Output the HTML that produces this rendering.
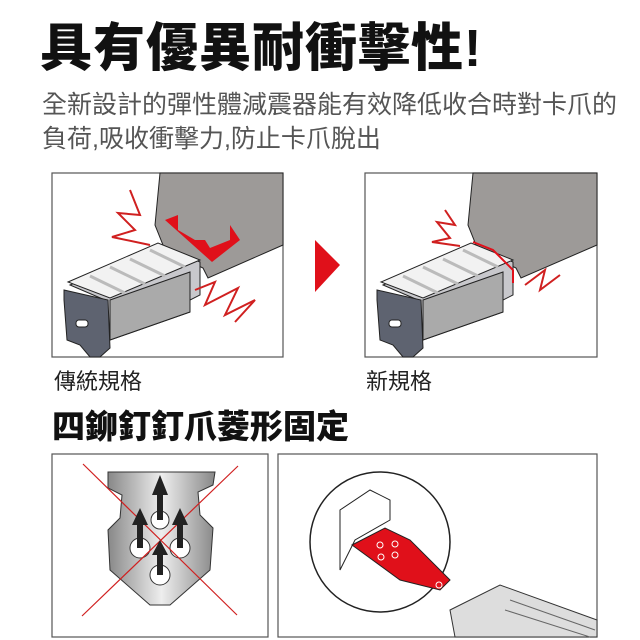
<!DOCTYPE html>
<html><head><meta charset="utf-8"><style>
body{margin:0;width:640px;height:640px;background:#fff;overflow:hidden;position:relative;font-family:"Liberation Sans","Noto Sans CJK TC",sans-serif}
.t{position:absolute;white-space:nowrap}
</style></head><body>
<div class="t" style="left:40px;top:6px;font-size:52px;font-weight:900;color:#111;letter-spacing:1px">具有優異耐衝擊性!</div>
<div class="t" style="left:42px;top:88px;font-size:25px;color:#555;line-height:34px;letter-spacing:0">全新設計的彈性體減震器能有效降低收合時對卡爪的<br>負荷,吸收衝擊力,防止卡爪脫出</div>
<div class="t" style="left:54px;top:364px;font-size:22px;color:#222">傳統規格</div>
<div class="t" style="left:366px;top:364px;font-size:22px;color:#222">新規格</div>
<div class="t" style="left:52px;top:400px;font-size:33px;font-weight:900;color:#111">四鉚釘釘爪菱形固定</div>
<svg width="640" height="640" style="position:absolute;left:0;top:0">
<g fill="none" stroke="#555" stroke-width="1.2">
<rect x="52" y="173" width="231" height="184"/>
<rect x="365" y="173" width="232" height="184"/>
<rect x="52" y="454" width="216" height="183"/>
<rect x="278" y="454" width="319" height="183"/>
</g>
<polygon points="315,240 340,265 315,292" fill="#e0101a"/>
<g>
<path d="M160,173 L283,173 L283,245 L208,278 L203,268 L165,250 L155,225 Z" fill="#9d9a98" stroke="#222"/>
<path d="M70,285 L160,245 L200,262 L200,295 L190,300 L190,312 L110,340 L105,300 Z" fill="#c8c8cc" stroke="#222"/>
<path d="M110,300 L190,272 L190,312 L110,340 Z" fill="#aaa" stroke="#222"/>
<path d="M68,282 L158,243 L200,260 L110,298 Z" fill="#f2f2f2" stroke="#222"/>
<g stroke="#bbb" stroke-width="3"><line x1="90" y1="276" x2="125" y2="293"/><line x1="110" y1="267" x2="145" y2="284"/><line x1="130" y1="259" x2="165" y2="276"/><line x1="150" y1="250" x2="185" y2="267"/></g>
<path d="M64,290 L108,300 L110,348 L100,357 L90,357 L80,345 L67,340 L64,300 Z" fill="#5e6370" stroke="#222"/>
<rect x="76" y="320" width="12" height="7" rx="3" fill="#fff" stroke="#222"/>
</g>
<path d="M165,220 L178,215 L178,230 L195,240 L205,240 L210,248 L230,240 L230,225 L240,240 L212,262 Z" fill="#e0101a"/>
<polyline points="130,190 140,215 118,213 135,230 112,237 150,245" fill="none" stroke="#d02020" stroke-width="2"/>
<polyline points="195,290 215,282 205,305 238,288 225,315 255,300 235,322" fill="none" stroke="#d02020" stroke-width="2"/>
<g transform="translate(313,0)">
<path d="M160,173 L284,173 L284,245 L208,278 L203,268 L165,250 L155,225 Z" fill="#9d9a98" stroke="#222"/>
<path d="M70,285 L160,245 L200,262 L200,295 L190,300 L190,312 L110,340 L105,300 Z" fill="#c8c8cc" stroke="#222"/>
<path d="M110,300 L190,272 L190,312 L110,340 Z" fill="#aaa" stroke="#222"/>
<path d="M68,282 L158,243 L200,260 L110,298 Z" fill="#f2f2f2" stroke="#222"/>
<g stroke="#bbb" stroke-width="3"><line x1="90" y1="276" x2="125" y2="293"/><line x1="110" y1="267" x2="145" y2="284"/><line x1="130" y1="259" x2="165" y2="276"/><line x1="150" y1="250" x2="185" y2="267"/></g>
<path d="M64,290 L108,300 L110,348 L100,357 L90,357 L80,345 L67,340 L64,300 Z" fill="#5e6370" stroke="#222"/>
<rect x="76" y="320" width="12" height="7" rx="3" fill="#fff" stroke="#222"/>
</g>
<polyline points="473,242 493,250 513,270 513,283" fill="none" stroke="#e0101a" stroke-width="2"/>
<polyline points="445,210 455,225 437,222 450,238 432,242 460,246" fill="none" stroke="#d02020" stroke-width="2"/>
<polyline points="525,285 545,270 540,290 560,275" fill="none" stroke="#d02020" stroke-width="2"/>
<defs><linearGradient id="g" x1="0" x2="1"><stop offset="0" stop-color="#888"/><stop offset=".5" stop-color="#eee"/><stop offset="1" stop-color="#888"/></linearGradient></defs>
<path d="M108,472 L215,472 L213,485 L198,492 L200,515 L213,528 L210,570 L170,605 L150,605 L110,570 L108,530 L120,518 L122,495 L108,488 Z" fill="url(#g)" stroke="#333"/>
<g fill="#fff" stroke="#333"><circle cx="160" cy="520" r="9"/><circle cx="140" cy="548" r="10"/><circle cx="180" cy="548" r="10"/><circle cx="160" cy="575" r="10"/></g>
<g stroke="#d02020" stroke-width="1.2"><line x1="83" y1="464" x2="237" y2="615"/><line x1="238" y1="466" x2="82" y2="616"/></g>
<g fill="#222"><path d="M157,520 L157,495 L152,495 L160,475 L168,495 L163,495 L163,520Z"/><path d="M137,548 L137,525 L132,525 L140,508 L148,525 L143,525 L143,548Z"/><path d="M177,548 L177,525 L172,525 L180,508 L188,525 L183,525 L183,548Z"/><path d="M157,575 L157,555 L152,555 L160,540 L168,555 L163,555 L163,575Z"/></g>
<path d="M450,610 L500,585 L597,620 L597,637 L455,637Z" fill="#ddd" stroke="#333"/>
<g stroke="#666" stroke-width="1"><line x1="510" y1="600" x2="595" y2="630"/><line x1="505" y1="610" x2="590" y2="637"/></g>
<circle cx="380" cy="542" r="70" fill="#fff" stroke="#222" stroke-width="1.5"/>
<path d="M340,510 L370,490 L390,500 L390,520 L355,540 L340,570Z" fill="#fff" stroke="#222"/>
<path d="M352,545 L385,528 L410,540 L450,580 L440,590 L400,580Z" fill="#e0101a" stroke="#222"/>
<g fill="none" stroke="#fff"><circle cx="380" cy="545" r="3"/><circle cx="395" cy="544" r="3"/><circle cx="381" cy="557" r="3"/><circle cx="395" cy="555" r="3"/><circle cx="439" cy="585" r="3"/></g>
</svg>
</body></html>
